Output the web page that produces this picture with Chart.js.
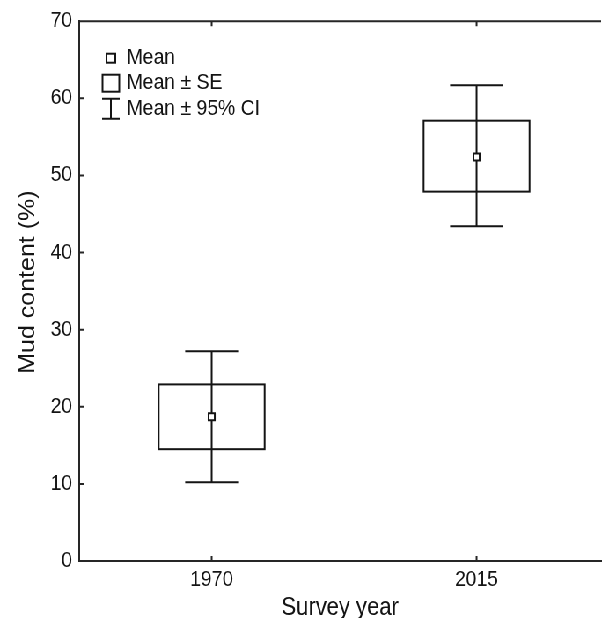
<!DOCTYPE html>
<html>
<head>
<meta charset="utf-8">
<title>Mud content by survey year</title>
<script src="https://cdn.jsdelivr.net/npm/chart.js@4/dist/chart.umd.min.js"></script>
<style>
  html, body { margin: 0; padding: 0; background: #fff; overflow: hidden; }
  /* drawn wide, then condensed horizontally; the plot runs off the right edge */
  #wrap { width: 690px; height: 618px; transform: scaleX(0.8801); transform-origin: 0 0; background: #fff; }
</style>
</head>
<body>
<div id="wrap"><canvas id="chart"></canvas></div>
<script>
const years = ["1970", "2015"]
const means = [18.7, 52.4]
const seLow = [14.5, 47.9]
const seHigh = [22.9, 57.1]
const ciLow = [10.2, 43.4]
const ciHigh = [27.2, 61.7]
const legendLabels = ["Mean", "Mean ± SE", "Mean ± 95% CI"]
const yTitle = "Mud content (%)"

const ink = "#141414"
const axisInk = "#262626"
const family = "'Liberation Sans', Arial, sans-serif"

// SE boxes and CI whiskers, drawn under the mean markers
const boxWhisker = {
  id: "boxWhisker",
  beforeDatasetsDraw(chart, args, opts) {
    const { ctx, scales: { x, y } } = chart
    ctx.save()
    ctx.strokeStyle = ink
    ctx.lineWidth = 2
    years.forEach((_, i) => {
      const cx = x.getPixelForValue(i)
      const bl = x.getPixelForValue(i - opts.boxHalf)
      const br = x.getPixelForValue(i + opts.boxHalf)
      const top = y.getPixelForValue(seHigh[i])
      const bot = y.getPixelForValue(seLow[i])
      ctx.strokeRect(bl, top, br - bl, bot - top)

      const capL = x.getPixelForValue(i - opts.capHalf)
      const capR = x.getPixelForValue(i + opts.capHalf)
      const hi = y.getPixelForValue(ciHigh[i])
      const lo = y.getPixelForValue(ciLow[i])
      ctx.beginPath()
      ctx.moveTo(cx, hi); ctx.lineTo(cx, lo)
      ctx.moveTo(capL, hi); ctx.lineTo(capR, hi)
      ctx.moveTo(capL, lo); ctx.lineTo(capR, lo)
      ctx.stroke()
    })
    ctx.restore()
  }
}

// top frame line, inward tick marks and the rotated y title
const frame = {
  id: "frame",
  afterDatasetsDraw(chart) {
    const { ctx, chartArea: a, scales: { x, y } } = chart
    ctx.save()
    ctx.strokeStyle = axisInk
    ctx.lineWidth = 2
    ctx.beginPath()
    ctx.moveTo(a.left - 1, a.top)
    ctx.lineTo(a.right, a.top)
    y.ticks.forEach(t => {
      const py = y.getPixelForValue(t.value)
      ctx.moveTo(a.left, py); ctx.lineTo(a.left + 6, py)
    })
    x.ticks.forEach(t => {
      const px = x.getPixelForValue(t.value)
      ctx.moveTo(px, a.bottom); ctx.lineTo(px, a.bottom - 5)
      ctx.moveTo(px, a.top); ctx.lineTo(px, a.top + 5)
    })
    ctx.stroke()

    ctx.translate(32, (a.top + a.bottom) / 2 - 9)
    ctx.rotate(-Math.PI / 2)
    ctx.fillStyle = ink
    ctx.font = `25px ${family}`
    ctx.textAlign = "center"
    ctx.textBaseline = "middle"
    ctx.fillText(yTitle, 0, 0)
    ctx.restore()
  }
}

// key in the top-left corner: mean square, SE box, CI whisker
const keyBox = {
  id: "keyBox",
  afterDraw(chart) {
    const { ctx, chartArea: a } = chart
    const ix = a.left + 36
    const tx = a.left + 54
    const rows = [a.top + 37, a.top + 62, a.top + 87.5]
    ctx.save()
    ctx.strokeStyle = ink
    ctx.fillStyle = "#fff"
    ctx.lineWidth = 2
    ctx.fillRect(ix - 5, rows[0] - 4.5, 10, 9)
    ctx.strokeRect(ix - 5, rows[0] - 4.5, 10, 9)
    ctx.strokeRect(ix - 9.5, rows[1] - 8.5, 19, 17)
    ctx.beginPath()
    ctx.moveTo(ix, rows[2] - 10); ctx.lineTo(ix, rows[2] + 10)
    ctx.moveTo(ix - 10, rows[2] - 10); ctx.lineTo(ix + 10, rows[2] - 10)
    ctx.moveTo(ix - 10, rows[2] + 10); ctx.lineTo(ix + 10, rows[2] + 10)
    ctx.stroke()
    ctx.fillStyle = ink
    ctx.font = `22px ${family}`
    ctx.textBaseline = "middle"
    ctx.textAlign = "left"
    legendLabels.forEach((label, i) => ctx.fillText(label, tx, rows[i]))
    ctx.restore()
  }
}

new Chart(document.getElementById("chart"), {
  type: "scatter",
  data: {
    datasets: [{
      label: legendLabels[0],
      data: years.map((_, i) => ({ x: i, y: means[i] })),
      pointStyle: "rect",
      pointRadius: 5,
      pointHoverRadius: 5,
      pointBorderWidth: 2,
      backgroundColor: "#fff",
      borderColor: ink
    }]
  },
  options: {
    responsive: true,
    maintainAspectRatio: false,
    animation: false,
    layout: { padding: { top: 20, left: 0, right: 0, bottom: 0 } },
    plugins: {
      legend: { display: false },
      tooltip: { enabled: false },
      boxWhisker: { boxHalf: 0.2, capHalf: 0.1 }
    },
    scales: {
      x: {
        type: "linear",
        min: -0.5,
        max: 1.47,
        grid: { display: false, drawTicks: false, tickLength: 0 },
        border: { display: true, color: axisInk, width: 2 },
        afterBuildTicks: scale => { scale.ticks = years.map((_, i) => ({ value: i })) },
        afterFit: scale => { scale.height = 57 },
        ticks: {
          callback: value => years[value],
          color: ink,
          padding: 6,
          font: { family, size: 22 }
        },
        title: {
          display: true,
          text: "Survey year",
          color: ink,
          padding: 0,
          font: { family, size: 25, lineHeight: 0.8 }
        }
      },
      y: {
        min: 0,
        max: 70,
        grid: { display: false, drawTicks: false, tickLength: 0 },
        border: { display: true, color: axisInk, width: 2 },
        afterFit: scale => { scale.width = 90 },
        ticks: {
          stepSize: 10,
          color: ink,
          padding: 8,
          font: { family, size: 22 }
        }
      }
    }
  },
  plugins: [boxWhisker, frame, keyBox]
})
</script>
</body>
</html>
